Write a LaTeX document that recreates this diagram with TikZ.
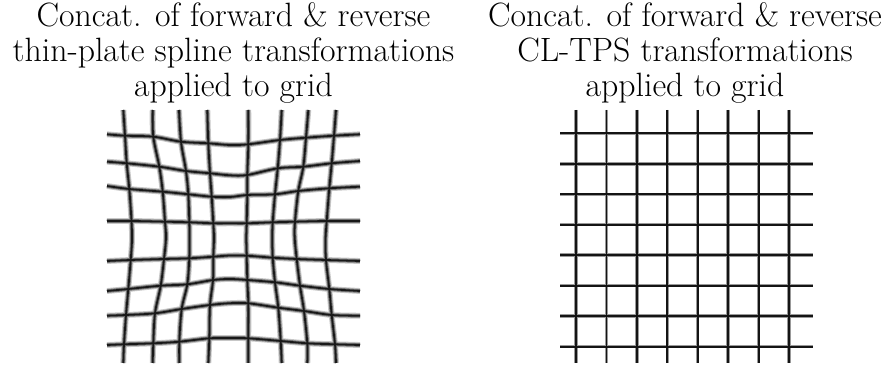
\documentclass[tikz,border=0pt]{standalone}
\begin{document}
\begin{tikzpicture}[x=0.75pt,y=-0.75pt,
  halo/.style={line width=4.4pt,draw=black!22},
  mid/.style={line width=2.8pt,draw=black!55},
  core/.style={line width=1.35pt,draw=black!90},
  rhalo/.style={line width=2.6pt,draw=black!40},
  rcore/.style={line width=1.4pt,draw=black!92},
  ttl/.style={anchor=base,inner sep=0pt,font=\fontsize{25.3}{28}\selectfont}]
\useasboundingbox (0,0) rectangle (886,366);
% titles
\node[ttl] (l1) at (233.5,26.5) {Concat. of forward \& reverse};
\node[ttl] (l2) at (233.5,62) {thin-plate spline transformations};
\node[ttl] (l3) at (233.5,97) {applied to grid};
\node[ttl] (r1) at (685,26.5) {Concat. of forward \& reverse};
\node[ttl] (r2) at (685,62) {CL-TPS transformations};
\node[ttl] (r3) at (685,97) {applied to grid};
% left distorted grid
\def\leftgrid#1{%
\draw[#1] plot[smooth,tension=0.55] coordinates {(123.3,110) (125,135.7) (126.7,163.3) (129.3,189) (131.5,221) (132,240) (130.7,260) (128.3,289) (126,315) (124,344.3) (123.3,363)};
\draw[#1] plot[smooth,tension=0.55] coordinates {(152.7,110) (153.3,136.7) (159.3,166.7) (162.7,191.7) (165,221.7) (166,238) (164,259) (160.7,285.7) (155,313.3) (153.3,343.3) (152.7,363)};
\draw[#1] plot[smooth,tension=0.55] coordinates {(179,110) (181,141.7) (186,171) (188.3,194.3) (189.3,222.3) (189.5,238) (189.3,258.3) (187.3,284.3) (181.7,309) (179.3,341.7) (179.3,363)};
\draw[#1] plot[smooth,tension=0.55] coordinates {(207.3,110) (208.3,143.3) (210,173.3) (211.7,196.7) (213.3,223.3) (214,238) (213.3,256.7) (213,280) (210,305) (209.3,338.3) (208.3,363)};
\draw[#1] plot[smooth,tension=0.55] coordinates {(248.3,110) (248.3,144.3) (247.3,175) (247.3,195) (246.7,223.3) (246.3,238) (246.7,255.7) (247.3,280) (248.3,303.3) (248.3,338.3) (248.3,363)};
\draw[#1] plot[smooth,tension=0.55] coordinates {(281.7,110) (280,140) (277.7,168.3) (275,194.3) (272.7,222.3) (272.3,238) (272.7,257.7) (275,282.3) (278.3,307.7) (280.7,341) (281.7,363)};
\draw[#1] plot[smooth,tension=0.55] coordinates {(308.3,110) (306,137.7) (303.3,166.7) (298.3,191) (295,221.7) (294.7,238) (296.7,259) (300,285.7) (304,311) (307.3,343.3) (307.3,363)};
\draw[#1] plot[smooth,tension=0.55] coordinates {(336,110) (334,135.7) (331.7,163.3) (329.3,188.3) (326.7,221) (325.5,240) (326,260) (329.3,289) (331.7,315) (335,344.3) (336,363)};
\draw[#1] plot[smooth,tension=0.55] coordinates {(107,134.3) (125,135.7) (153.3,136.7) (181,141.7) (208.3,143.3) (230,145) (248.3,144.3) (280,140) (306,137.7) (334,135.7) (360,134.3)};
\draw[#1] plot[smooth,tension=0.55] coordinates {(107,161.7) (126.7,163.3) (159.3,166.7) (186,171) (210,173.3) (230,175.3) (247.3,175) (277.7,168.3) (303.3,166.7) (331.7,163.3) (360,161)};
\draw[#1] plot[smooth,tension=0.55] coordinates {(107,186) (129.3,189) (162.7,191.7) (188.3,194.3) (211.7,196.7) (230,197) (247.3,195) (275,194.3) (298.3,191) (329.3,188.3) (360,186.7)};
\draw[#1] plot[smooth,tension=0.55] coordinates {(107,221) (131.5,221) (165,221.7) (189.3,222.3) (213.3,223.3) (230,223.3) (246.7,223.3) (272.7,222.3) (295,221.7) (326.7,221) (360,221)};
\draw[#1] plot[smooth,tension=0.55] coordinates {(107,261) (130.7,260) (164,259) (189.3,258.3) (213.3,256.7) (230,255.5) (246.7,255.7) (272.7,257.7) (296.7,259) (326,260) (360,261)};
\draw[#1] plot[smooth,tension=0.55] coordinates {(107,291) (128.3,289) (160.7,285.7) (187.3,284.3) (213.3,280) (230,279) (247.3,280) (275,282.3) (300,285.7) (329.3,289) (360,291)};
\draw[#1] plot[smooth,tension=0.55] coordinates {(107,315.7) (126,315) (155,313.3) (181.7,309) (210,305) (230,303.2) (248.3,303.3) (278.3,307.7) (304,311) (331.7,315) (360,315.7)};
\draw[#1] plot[smooth,tension=0.55] coordinates {(107,345) (124,344.3) (153.3,343.3) (179.3,341.7) (209.3,338.3) (230,338) (248.3,338.3) (280.7,341) (307.3,343.3) (335,344.3) (360,345)};
}
\leftgrid{halo}
\leftgrid{mid}
\leftgrid{core}
% right regular grid
\foreach \s in {rhalo,rcore}{
  \foreach \i in {0,...,7}{
    \draw[\s] ({576+30.43*\i},110) -- ({576+30.43*\i},363);
    \draw[\s] (560,{133.3+30.48*\i}) -- (813,{133.3+30.48*\i});
  }
}
\end{tikzpicture}
\end{document}
